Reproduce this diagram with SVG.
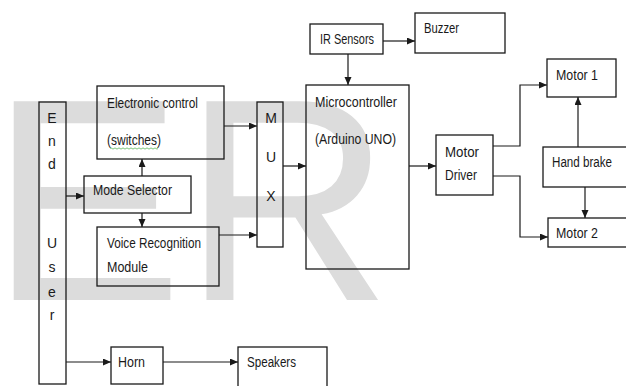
<svg xmlns="http://www.w3.org/2000/svg" width="626" height="386" viewBox="0 0 626 386">
<defs>
<style>
.box{fill:none;stroke:#1a1a1a;stroke-width:1.3}
.ln{fill:none;stroke:#1a1a1a;stroke-width:1.2}
.t{font-family:"Liberation Sans",Arial,sans-serif;font-size:14px;fill:#1a1a1a}
.c{text-anchor:middle}
.wm{font-family:"Liberation Sans",Arial,sans-serif;font-size:289px;fill:#dcdcdc}
</style>
<marker id="ah" markerWidth="8" markerHeight="8" refX="8" refY="3.5" orient="auto" markerUnits="userSpaceOnUse">
<path d="M0,0 L8,3.5 L0,7 z" fill="#1a1a1a"/>
</marker>
</defs>
<rect width="626" height="386" fill="#ffffff"/>
<text class="wm" x="-10" y="300">ER</text>

<g id="connectors">
<path class="ln" d="M66,196 H84" marker-end="url(#ah)"/>
<path class="ln" d="M142,176 V159" marker-end="url(#ah)"/>
<path class="ln" d="M142,213 V227" marker-end="url(#ah)"/>
<path class="ln" d="M224,126 H257" marker-end="url(#ah)"/>
<path class="ln" d="M219,235 H257" marker-end="url(#ah)"/>
<path class="ln" d="M283,166 H306" marker-end="url(#ah)"/>
<path class="ln" d="M383,41 H415" marker-end="url(#ah)"/>
<path class="ln" d="M348,54 V85" marker-end="url(#ah)"/>
<path class="ln" d="M409,166 H436" marker-end="url(#ah)"/>
<path class="ln" d="M493,146 H520 V85 H547" marker-end="url(#ah)"/>
<path class="ln" d="M493,176 H520 V237 H548" marker-end="url(#ah)"/>
<path class="ln" d="M578,147 V97" marker-end="url(#ah)"/>
<path class="ln" d="M585,187 V218" marker-end="url(#ah)"/>
<path class="ln" d="M66,362 H111" marker-end="url(#ah)"/>
<path class="ln" d="M163,362 H238" marker-end="url(#ah)"/>
</g>

<g id="end-user">
<rect class="box" x="39" y="102" width="27" height="282"/>
<text class="t c" x="52" y="123">E</text>
<text class="t c" x="52" y="146">n</text>
<text class="t c" x="52" y="169">d</text>
<text class="t c" x="52" y="248">U</text>
<text class="t c" x="52" y="272">s</text>
<text class="t c" x="52" y="297">e</text>
<text class="t c" x="52" y="320">r</text>
</g>

<g id="electronic-control">
<rect class="box" x="97" y="86" width="127" height="73"/>
<text class="t" x="107" y="108" textLength="91" lengthAdjust="spacingAndGlyphs">Electronic control</text>
<text class="t" x="107" y="145" textLength="54" lengthAdjust="spacingAndGlyphs">(switches)</text>
<path d="M110,148.5 q1,-1.2 2,0 t2,0 t2,0 t2,0 t2,0 t2,0 t2,0 t2,0 t2,0 t2,0 t2,0 t2,0 t2,0 t2,0 t2,0 t2,0 t2,0 t2,0 t2,0 t2,0 t2,0 t2,0 t2,0 t2,0" fill="none" stroke="#5cb85c" stroke-width="0.8"/>
</g>

<g id="mode-selector">
<rect class="box" x="84" y="176" width="107" height="37"/>
<text class="t" x="93" y="195" textLength="79" lengthAdjust="spacingAndGlyphs">Mode Selector</text>
</g>

<g id="voice-recognition">
<rect class="box" x="97" y="227" width="122" height="59"/>
<text class="t" x="107" y="248" textLength="94" lengthAdjust="spacingAndGlyphs">Voice Recognition</text>
<text class="t" x="107" y="272" textLength="41" lengthAdjust="spacingAndGlyphs">Module</text>
</g>

<g id="mux">
<rect class="box" x="257" y="102" width="26" height="145"/>
<text class="t c" x="271" y="123">M</text>
<text class="t c" x="271" y="162">U</text>
<text class="t c" x="271" y="201">X</text>
</g>

<g id="microcontroller">
<rect class="box" x="306" y="85" width="103" height="184"/>
<text class="t" x="315" y="107" textLength="82" lengthAdjust="spacingAndGlyphs">Microcontroller</text>
<text class="t" x="315" y="144" textLength="81" lengthAdjust="spacingAndGlyphs">(Arduino UNO)</text>
</g>

<g id="ir-sensors">
<rect class="box" x="310" y="24" width="73" height="30"/>
<text class="t" x="320" y="44" textLength="54" lengthAdjust="spacingAndGlyphs">IR Sensors</text>
</g>

<g id="buzzer">
<rect class="box" x="415" y="13" width="90" height="40"/>
<text class="t" x="424" y="33" textLength="35" lengthAdjust="spacingAndGlyphs">Buzzer</text>
</g>

<g id="motor-driver">
<rect class="box" x="436" y="135" width="57" height="60"/>
<text class="t" x="445" y="157" textLength="34" lengthAdjust="spacingAndGlyphs">Motor</text>
<text class="t" x="445" y="180" textLength="32" lengthAdjust="spacingAndGlyphs">Driver</text>
</g>

<g id="motor-1">
<rect class="box" x="547" y="59" width="69" height="38"/>
<text class="t" x="556" y="80" textLength="42" lengthAdjust="spacingAndGlyphs">Motor 1</text>
</g>

<g id="hand-brake">
<rect class="box" x="543" y="147" width="90" height="40"/>
<text class="t" x="552" y="167" textLength="60" lengthAdjust="spacingAndGlyphs">Hand brake</text>
</g>

<g id="motor-2">
<rect class="box" x="548" y="218" width="90" height="29"/>
<text class="t" x="556" y="238" textLength="42" lengthAdjust="spacingAndGlyphs">Motor 2</text>
</g>

<g id="horn">
<rect class="box" x="111" y="347" width="52" height="37"/>
<text class="t" x="118" y="367" textLength="27" lengthAdjust="spacingAndGlyphs">Horn</text>
</g>

<g id="speakers">
<rect class="box" x="238" y="347" width="89" height="42"/>
<text class="t" x="247" y="367" textLength="49" lengthAdjust="spacingAndGlyphs">Speakers</text>
</g>
</svg>
